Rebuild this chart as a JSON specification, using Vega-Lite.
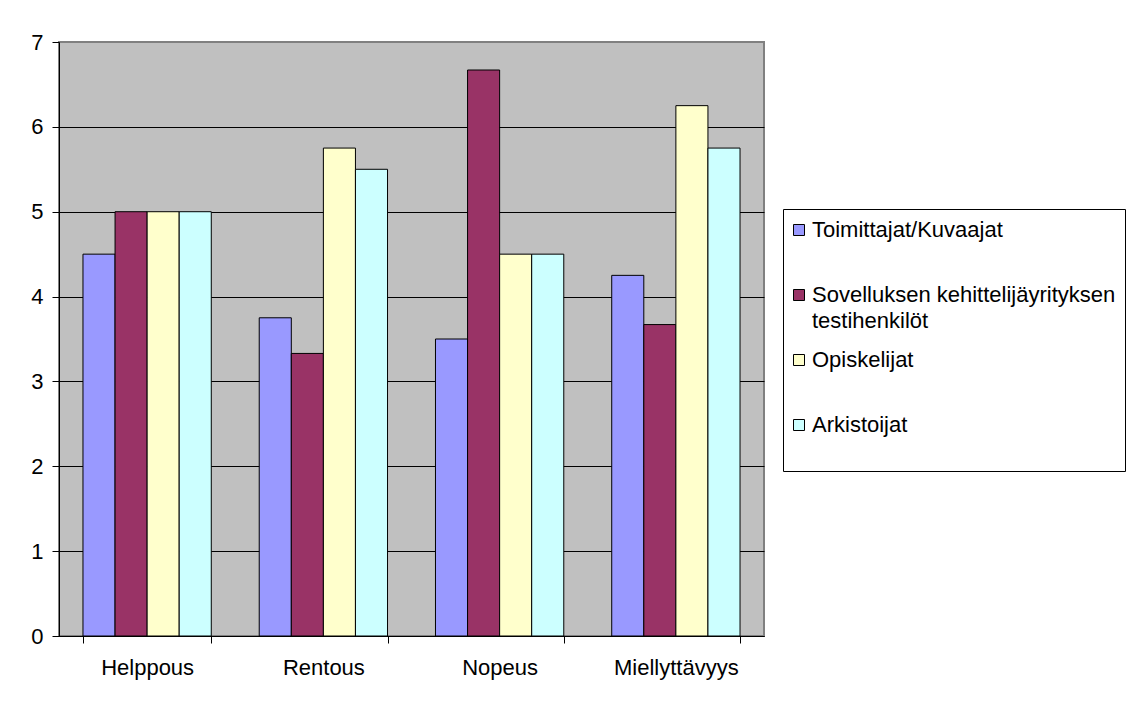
{
  "$schema": "https://vega.github.io/schema/vega-lite/v6.json",
  "autosize": {"type": "none"},
  "padding": {"left": 59, "top": 42, "right": 369, "bottom": 69},
  "width": 705,
  "height": 594,
  "background": "white",
  "data": {
    "values": [
      {"ominaisuus": "Helppous", "ryhma": "Toimittajat/Kuvaajat", "arvo": 4.5},
      {"ominaisuus": "Helppous", "ryhma": "Sovelluksen kehittelijäyrityksen testihenkilöt", "arvo": 5},
      {"ominaisuus": "Helppous", "ryhma": "Opiskelijat", "arvo": 5},
      {"ominaisuus": "Helppous", "ryhma": "Arkistoijat", "arvo": 5},
      {"ominaisuus": "Rentous", "ryhma": "Toimittajat/Kuvaajat", "arvo": 3.75},
      {"ominaisuus": "Rentous", "ryhma": "Sovelluksen kehittelijäyrityksen testihenkilöt", "arvo": 3.33},
      {"ominaisuus": "Rentous", "ryhma": "Opiskelijat", "arvo": 5.75},
      {"ominaisuus": "Rentous", "ryhma": "Arkistoijat", "arvo": 5.5},
      {"ominaisuus": "Nopeus", "ryhma": "Toimittajat/Kuvaajat", "arvo": 3.5},
      {"ominaisuus": "Nopeus", "ryhma": "Sovelluksen kehittelijäyrityksen testihenkilöt", "arvo": 6.67},
      {"ominaisuus": "Nopeus", "ryhma": "Opiskelijat", "arvo": 4.5},
      {"ominaisuus": "Nopeus", "ryhma": "Arkistoijat", "arvo": 4.5},
      {"ominaisuus": "Miellyttävyys", "ryhma": "Toimittajat/Kuvaajat", "arvo": 4.25},
      {"ominaisuus": "Miellyttävyys", "ryhma": "Sovelluksen kehittelijäyrityksen testihenkilöt", "arvo": 3.67},
      {"ominaisuus": "Miellyttävyys", "ryhma": "Opiskelijat", "arvo": 6.25},
      {"ominaisuus": "Miellyttävyys", "ryhma": "Arkistoijat", "arvo": 5.75}
    ]
  },
  "mark": {"type": "bar", "stroke": "black", "strokeWidth": 1},
  "encoding": {
    "x": {
      "field": "ominaisuus",
      "type": "nominal",
      "sort": ["Helppous", "Rentous", "Nopeus", "Miellyttävyys"],
      "scale": {"paddingInner": 0.272, "paddingOuter": 0.136},
      "axis": {
        "title": null,
        "labelAngle": 0,
        "labelFont": "Liberation Sans",
        "labelFontSize": 22,
        "labelColor": "black",
        "labelBaseline": "top",
        "labelPadding": 14,
        "tickBand": "extent",
        "tickSize": 7,
        "tickColor": "black",
        "domainColor": "black",
        "grid": false
      }
    },
    "xOffset": {
      "field": "ryhma",
      "type": "nominal",
      "sort": ["Toimittajat/Kuvaajat", "Sovelluksen kehittelijäyrityksen testihenkilöt", "Opiskelijat", "Arkistoijat"],
      "scale": {"paddingInner": 0, "paddingOuter": 0}
    },
    "y": {
      "field": "arvo",
      "type": "quantitative",
      "scale": {"domain": [0, 7], "nice": false},
      "axis": {
        "title": null,
        "values": [0, 1, 2, 3, 4, 5, 6, 7],
        "format": "d",
        "labelFont": "Liberation Sans",
        "labelFontSize": 22,
        "labelColor": "black",
        "labelPadding": 9,
        "tickSize": 7,
        "tickColor": "black",
        "domainColor": "black",
        "grid": true,
        "gridColor": {"condition": {"test": "datum.value == 7", "value": "#808080"}, "value": "black"},
        "gridOpacity": 1,
        "gridWidth": 1
      }
    },
    "fill": {
      "field": "ryhma",
      "type": "nominal",
      "sort": ["Toimittajat/Kuvaajat", "Sovelluksen kehittelijäyrityksen testihenkilöt", "Opiskelijat", "Arkistoijat"],
      "scale": {
        "domain": ["Toimittajat/Kuvaajat", "Sovelluksen kehittelijäyrityksen testihenkilöt", "Opiskelijat", "Arkistoijat"],
        "range": ["#9999FF", "#993366", "#FFFFCC", "#CCFFFF"]
      },
      "legend": {
        "title": null,
        "orient": "none",
        "legendX": 724,
        "legendY": 167,
        "direction": "vertical",
        "columns": 1,
        "gridAlign": "all",
        "rowPadding": 16,
        "padding": 9,
        "strokeColor": "black",
        "fillColor": "white",
        "symbolType": "square",
        "symbolSize": 121,
        "symbolStrokeColor": "black",
        "symbolStrokeWidth": 1,
        "symbolOffset": -4,
        "labelFont": "Liberation Sans",
        "labelFontSize": 22,
        "labelColor": "black",
        "labelLimit": 600,
        "labelOffset": 2,
        "labelBaseline": "alphabetic",
        "labelExpr": "datum.label == 'Sovelluksen kehittelijäyrityksen testihenkilöt' ? ['Sovelluksen kehittelijäyrityksen', 'testihenkilöt'] : datum.label == 'Arkistoijat' ? ['Arkistoijat', ''] : datum.label",
        "encode": {
          "labels": {"update": {"dy": {"value": 8}, "lineHeight": {"value": 26}}},
          "symbols": {"update": {"yc": {"value": 12}}}
        }
      }
    }
  },
  "config": {
    "view": {"fill": "#C0C0C0", "stroke": "#808080", "strokeWidth": 2},
    "axis": {"domainWidth": 1, "tickWidth": 1}
  }
}
